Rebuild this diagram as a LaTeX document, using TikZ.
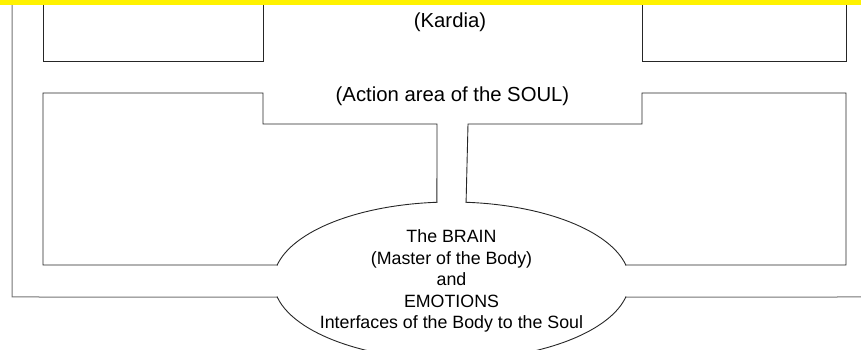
\documentclass[tikz,border=0pt]{standalone}
\usepackage{fontspec}
\setmainfont{Liberation Sans}
\usetikzlibrary{calc}

\tikzset{
	wall/.style={line width=0.9pt, black!85},
	outerwall/.style={line width=1pt, black!55},
	areatext/.style={font=\fontsize{20.3}{24}\selectfont, inner sep=0pt},
	braintext/.style={align=center, font=\fontsize{17.8}{21.5}\selectfont, inner sep=0pt}
}

\begin{document}
\begin{tikzpicture}[x=1pt, y=1pt, line cap=rect]
	\useasboundingbox (0,0) rectangle (861,350);
	\clip (0,0) rectangle (861,350);

	\def\rx{178}
	\def\ry{79}
	\coordinate (O) at (451.5,69);

	% openings of the ellipse
	\coordinate (TL) at ($(O)+(94.7:\rx pt and \ry pt)$);
	\coordinate (TR) at ($(O)+(85.3:\rx pt and \ry pt)$);
	\coordinate (LU) at ($(O)+(168.3:\rx pt and \ry pt)$);
	\coordinate (LD) at ($(O)+(191.7:\rx pt and \ry pt)$);
	\coordinate (RU) at ($(O)+(11.7:\rx pt and \ry pt)$);
	\coordinate (RD) at ($(O)+(-11.7:\rx pt and \ry pt)$);

	% upper boxes
	\draw[wall] (43,350) -- (43,289) -- (263,289) -- (263,350);
	\draw[wall] (642,350) -- (642,289) -- (846,289) -- (846,350);

	% middle areas
	\draw[wall] (LU) -- (43,85) -- (43,257) -- (263,257) -- (263,226) -- (437,226) -- (TL);
	\draw[wall] (TR) -- (468,226) -- (642,226) -- (642,257) -- (846,257) -- (846,85) -- (RU);

	% outer border
	\draw[outerwall] (LD) -- (12,53) -- (12,350);
	\draw[outerwall] (RD) -- (861,53);

	% the ellipse, open where the passages meet it
	\draw[wall] (TL) arc[start angle=94.7, end angle=168.3, x radius=\rx pt, y radius=\ry pt];
	\draw[wall] (RU) arc[start angle=11.7, end angle=85.3, x radius=\rx pt, y radius=\ry pt];
	\draw[wall] (LD) arc[start angle=191.7, end angle=348.3, x radius=\rx pt, y radius=\ry pt];

	\node[areatext] (kardia) at (450,328) {(Kardia)};
	\node[areatext] (action) at (452.5,254) {(Action area of the SOUL)};
	\node[braintext] (brain) at (O) {The BRAIN\\(Master of the Body)\\and\\EMOTIONS\\Interfaces of the Body to the Soul};

	\fill[yellow] (0,344.5) rectangle (861,350);
\end{tikzpicture}
\end{document}
